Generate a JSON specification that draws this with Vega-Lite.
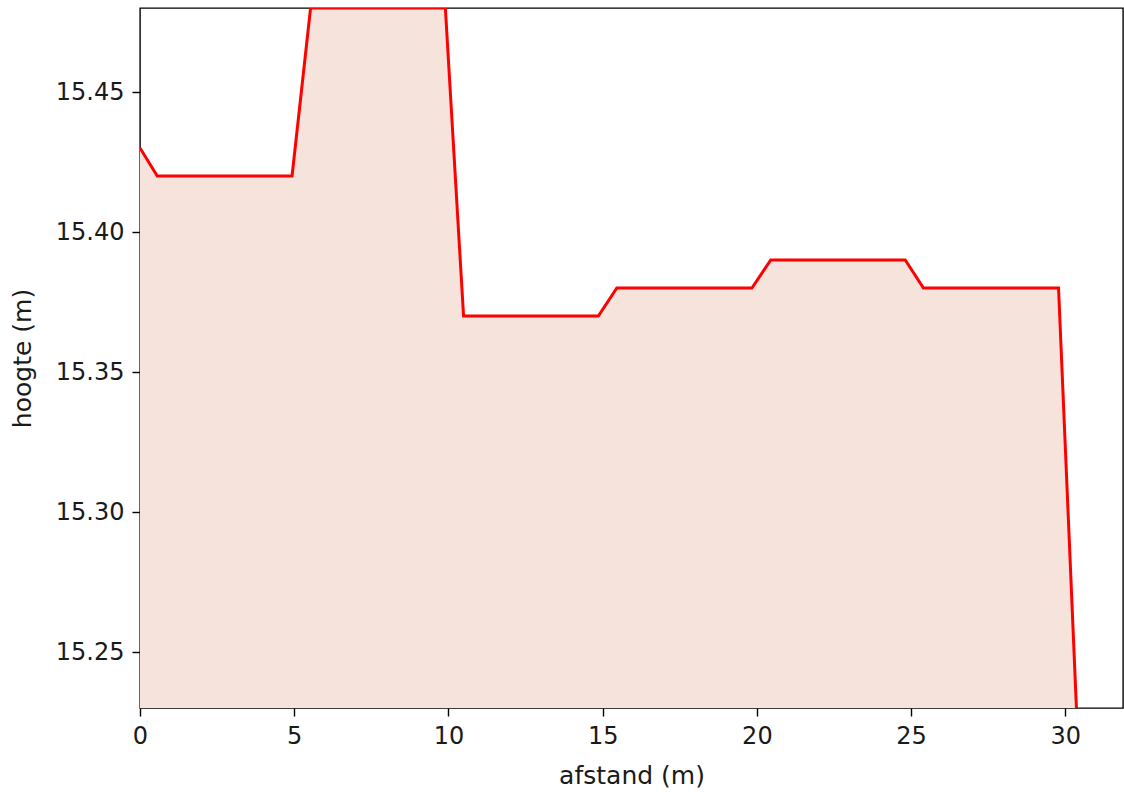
{
  "$schema": "https://vega.github.io/schema/vega-lite/v6.json",
  "autosize": "none",
  "width": 983,
  "height": 700,
  "padding": {"left": 140, "top": 8, "right": 1, "bottom": 87},
  "background": "white",
  "config": {
    "view": {"stroke": "black", "strokeWidth": 1.4},
    "font": "DejaVu Sans",
    "axis": {
      "domain": false,
      "grid": false,
      "tickColor": "black",
      "tickWidth": 1.4,
      "tickSize": 8,
      "labelColor": "#1a1a1a",
      "labelFont": "DejaVu Sans",
      "labelFontSize": 24,
      "labelFlush": false,
      "titleFont": "DejaVu Sans",
      "titleFontSize": 25,
      "titleFontWeight": "normal",
      "titleColor": "#1a1a1a"
    }
  },
  "data": {
    "values": [
      {"afstand": 0.0, "hoogte": 15.43},
      {"afstand": 0.56, "hoogte": 15.42},
      {"afstand": 4.93, "hoogte": 15.42},
      {"afstand": 5.53, "hoogte": 15.48},
      {"afstand": 9.9, "hoogte": 15.48},
      {"afstand": 10.49, "hoogte": 15.37},
      {"afstand": 14.86, "hoogte": 15.37},
      {"afstand": 15.46, "hoogte": 15.38},
      {"afstand": 19.84, "hoogte": 15.38},
      {"afstand": 20.45, "hoogte": 15.39},
      {"afstand": 24.81, "hoogte": 15.39},
      {"afstand": 25.4, "hoogte": 15.38},
      {"afstand": 29.78, "hoogte": 15.38},
      {"afstand": 30.36, "hoogte": 15.23}
    ]
  },
  "encoding": {
    "x": {
      "field": "afstand",
      "type": "quantitative",
      "scale": {"domain": [0, 31.87], "nice": false, "zero": false},
      "axis": {"title": "afstand (m)", "values": [0, 5, 10, 15, 20, 25, 30], "labelPadding": 8, "titlePadding": 15}
    },
    "y": {
      "field": "hoogte",
      "type": "quantitative",
      "scale": {"domain": [15.23, 15.48], "nice": false, "zero": false},
      "axis": {"title": "hoogte (m)", "values": [15.25, 15.3, 15.35, 15.4, 15.45], "format": ".2f", "labelPadding": 8, "titlePadding": 20}
    }
  },
  "layer": [
    {"mark": {"type": "area", "color": "#f6e4dc", "opacity": 1, "clip": true}},
    {"mark": {"type": "line", "color": "#ff0000", "strokeWidth": 3, "clip": true}}
  ]
}
